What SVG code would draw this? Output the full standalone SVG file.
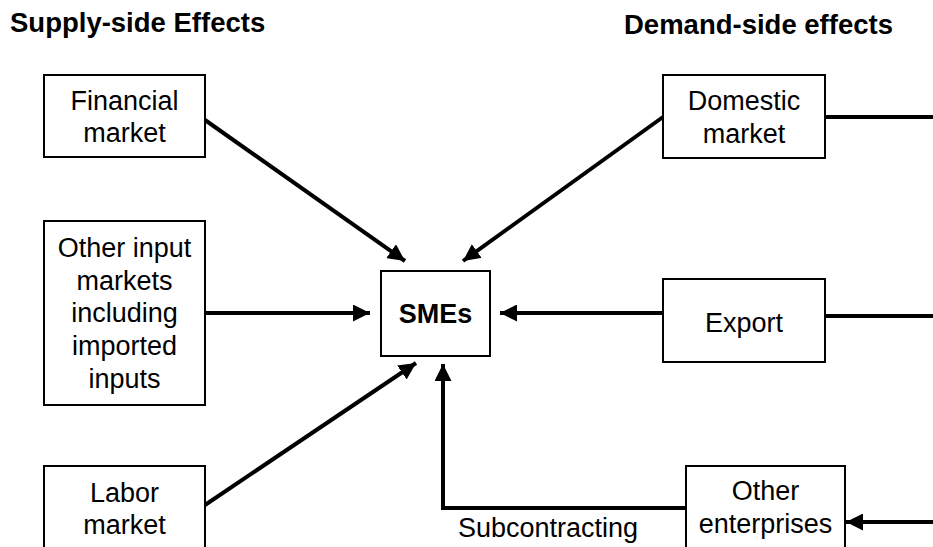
<svg xmlns="http://www.w3.org/2000/svg" width="933" height="547" viewBox="0 0 933 547">
<style>
.box{fill:#fff;stroke:#000;stroke-width:2}
.t{font-family:"Liberation Sans",Arial,sans-serif;font-size:27px;fill:#000;text-anchor:middle}
.b{font-weight:bold}
.h{font-family:"Liberation Sans",Arial,sans-serif;font-size:27.5px;font-weight:bold;fill:#000}
.c{fill:none;stroke:#000;stroke-width:4}
</style>
<defs>
<marker id="ah" markerUnits="userSpaceOnUse" markerWidth="17" markerHeight="17" viewBox="0 0 17 17" refX="17" refY="8.5" orient="auto">
<path d="M0,0 L17,8.5 L0,17 Z" fill="#000"/>
</marker>
</defs>
<text class="h" x="10" y="32">Supply-side Effects</text>
<text class="h" x="624" y="34">Demand-side effects</text>
<g id="connectors">
<line class="c" x1="205" y1="120" x2="405" y2="261" marker-end="url(#ah)"/>
<line class="c" x1="663" y1="117" x2="463" y2="261" marker-end="url(#ah)"/>
<line class="c" x1="205" y1="313" x2="370" y2="313" marker-end="url(#ah)"/>
<line class="c" x1="663" y1="313" x2="500" y2="313" marker-end="url(#ah)"/>
<line class="c" x1="205" y1="505" x2="416" y2="363" marker-end="url(#ah)"/>
<path class="c" d="M686,508 L443,508 L443,364" marker-end="url(#ah)"/>
<line class="c" x1="825" y1="117" x2="933" y2="117"/>
<line class="c" x1="825" y1="316" x2="933" y2="316"/>
<line class="c" x1="933" y1="522" x2="846" y2="522" marker-end="url(#ah)"/>
</g>
<text class="t" x="548" y="537">Subcontracting</text>
<g id="financial">
<rect class="box" x="44" y="75" width="161" height="82"/>
<text class="t" x="124.5" y="110">Financial</text>
<text class="t" x="124.5" y="142">market</text>
</g>
<g id="otherinput">
<rect class="box" x="44" y="221" width="161" height="184"/>
<text class="t" x="124.5" y="257">Other input</text>
<text class="t" x="124.5" y="290">markets</text>
<text class="t" x="124.5" y="322">including</text>
<text class="t" x="124.5" y="355">imported</text>
<text class="t" x="124.5" y="388">inputs</text>
</g>
<g id="labor">
<rect class="box" x="44" y="466" width="161" height="100"/>
<text class="t" x="124.5" y="502">Labor</text>
<text class="t" x="124.5" y="534">market</text>
</g>
<g id="smes">
<rect class="box" x="381" y="271" width="109" height="85"/>
<text class="t b" x="435.5" y="323">SMEs</text>
</g>
<g id="domestic">
<rect class="box" x="663" y="75" width="162" height="83"/>
<text class="t" x="744" y="110">Domestic</text>
<text class="t" x="744" y="143">market</text>
</g>
<g id="export">
<rect class="box" x="663" y="279" width="162" height="83"/>
<text class="t" x="744" y="332">Export</text>
</g>
<g id="otherent">
<rect class="box" x="686" y="466" width="159" height="100"/>
<text class="t" x="765.5" y="500">Other</text>
<text class="t" x="765.5" y="533">enterprises</text>
</g>
</svg>
